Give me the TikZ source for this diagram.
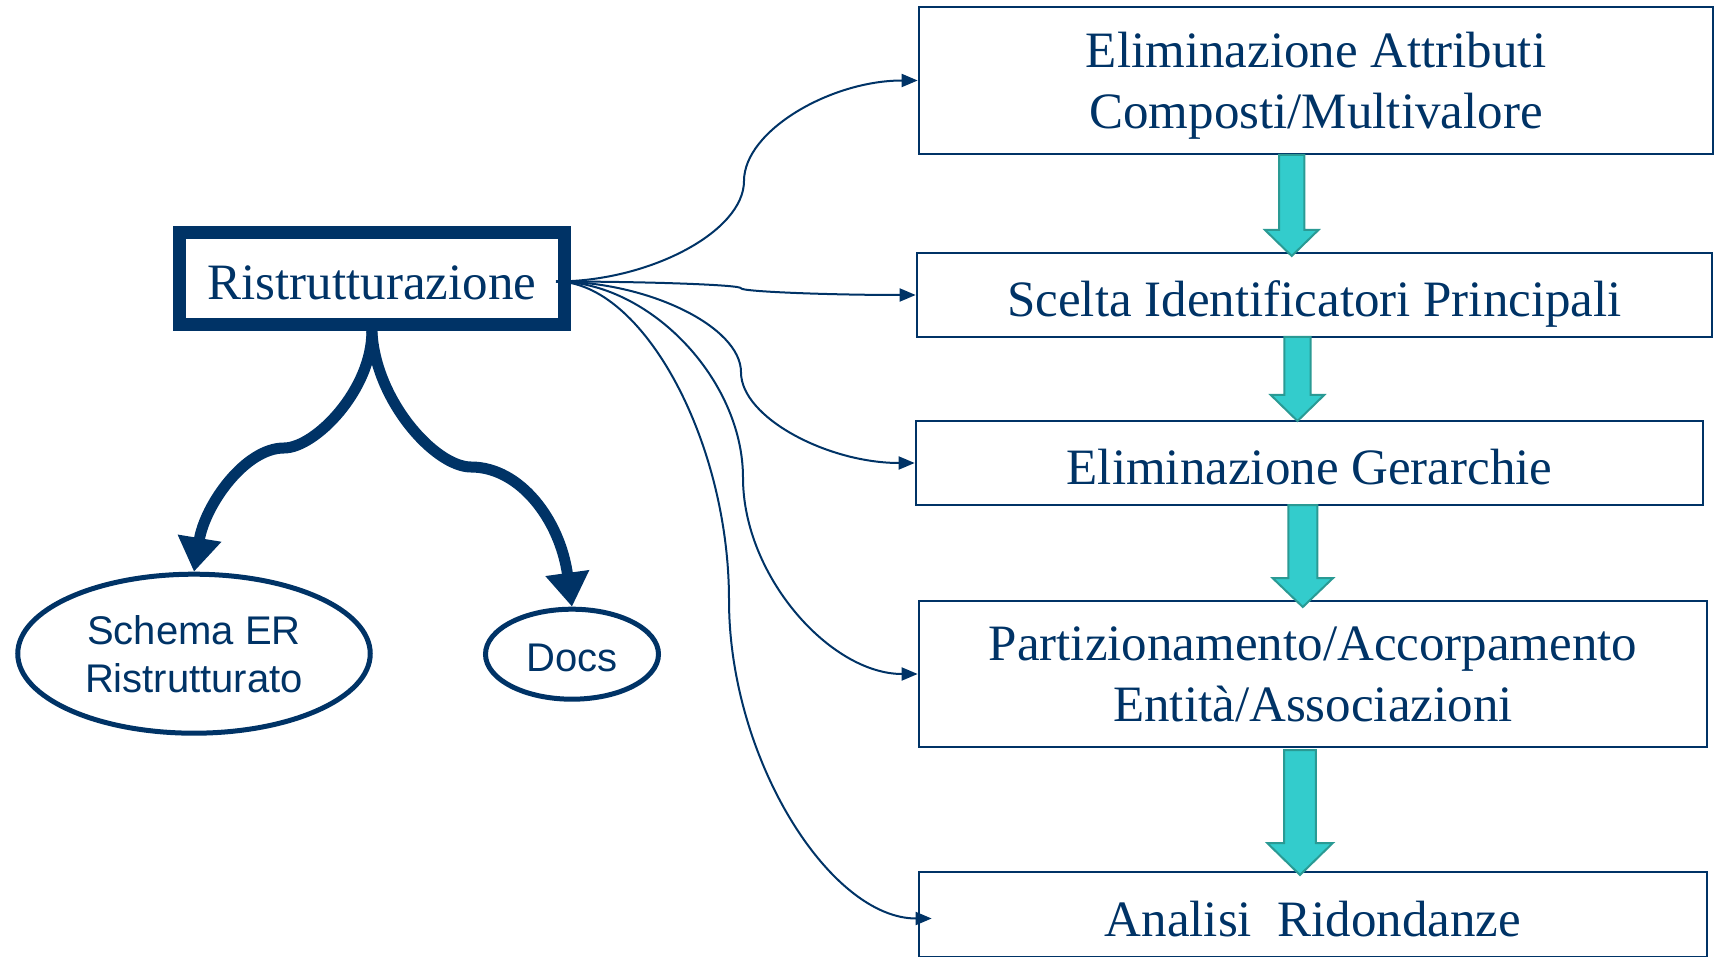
\documentclass[tikz,border=0pt]{standalone}
\usepackage{fontspec}
\setmainfont{Liberation Serif}
\newfontfamily\labelsans{Liberation Sans}
\usetikzlibrary{arrows.meta,shapes.geometric,calc}
\definecolor{navy}{HTML}{003366}
\definecolor{tealfill}{HTML}{33CCCC}
\definecolor{tealedge}{HTML}{2A9A94}

% vertical block arrow: centre x, top y, head y, tip y, half shaft, half head
\newcommand\tealarrow[6]{%
  \draw[blockarrow] ({#1-#5},#2) -- ({#1+#5},#2) -- ({#1+#5},#3) -- ({#1+#6},#3)
    -- (#1,#4) -- ({#1-#6},#3) -- ({#1-#5},#3) -- cycle;}

\begin{document}
\begin{tikzpicture}[x=1pt,y=-1pt,
  serifbig/.style={font=\fontsize{51}{61.5}\selectfont},
  stepbox/.style={draw=navy, line width=2.7pt, text=navy, inner sep=0pt,
    align=center, serifbig, text depth=-9pt},
  onerow/.style={text height=43pt, text depth=0pt},
  hubbox/.style={draw=navy, line width=13pt, text=navy, inner sep=0pt,
    minimum width=385pt, minimum height=92pt, serifbig,
    text height=42pt, text depth=0pt},
  outcome/.style={ellipse, draw=navy, line width=5pt, text=navy, inner sep=0pt,
    align=center, font=\labelsans\fontsize{40}{48}\selectfont},
  feed/.style={draw=navy, line width=2pt, -{Triangle[length=16pt,width=13pt]}},
  fork/.style={draw=navy, line width=11pt, -{Triangle[length=34pt,width=42pt]}},
  blockarrow/.style={fill=tealfill, draw=tealedge, line width=2pt, line join=miter},
  elbow/.style={to path={let \p1=(\tikztostart), \p2=(\tikztotarget) in
    .. controls ({(\x1+#1pt)/2},\y1) and (#1pt,{(3*\y1+\y2)/4})
    .. (#1pt,{(\y1+\y2)/2})
    .. controls (#1pt,{(\y1+3*\y2)/4}) and ({(#1pt+\x2)/2},\y2)
    .. (\x2,\y2) \tikztonodes}}
]
\useasboundingbox (0,0) rectangle (1714,957);

% process steps
\node[stepbox, minimum width=794pt, minimum height=147pt] (b1) at (1316,80.5)
  {Eliminazione Attributi\\Composti/Multivalore};
\node[stepbox, onerow, minimum width=795pt, minimum height=84pt] (b2) at (1314.5,295)
  {Scelta Identificatori Principali};
\node[stepbox, onerow, minimum width=787pt, minimum height=84pt] (b3) at (1309.5,463)
  {Eliminazione Gerarchie};
\node[stepbox, minimum width=788pt, minimum height=146pt] (b4) at (1313,674)
  {Partizionamento/Accorpamento\\Entità/Associazioni};
\node[stepbox, onerow, minimum width=788pt, minimum height=85pt] (b5) at (1313,914.5)
  {Analisi~~Ridondanze};

% block arrows between the steps
\tealarrow{1291.7}{155}{230}{256}{12.7}{26.7}
\tealarrow{1297.5}{337}{395}{421}{13.2}{26.7}
\tealarrow{1302.8}{505}{578}{607}{14.5}{30.3}
\tealarrow{1300}{750}{843}{875}{15.8}{32.8}

% fan of connectors from the main box
\coordinate (hub) at (556,281.5);
\draw[feed] (hub) to[elbow=744] (b1.west);
\draw[feed] (hub) to[elbow=741] (b2.west);
\draw[feed] (hub) to[elbow=741] (b3.west);
\draw[feed] (hub) to[elbow=743] (b4.west);
\draw[feed] (hub) to[elbow=729] ([xshift=14pt,yshift=-4pt]b5.west);

% main box
\node[hubbox] (b0) at (371.9,278.5) {Ristrutturazione};

% outputs
\node[outcome, text depth=-6pt, minimum width=352.5pt, minimum height=159pt] (e1)
  at (194,653.7) {Schema ER\\Ristrutturato};
\node[outcome, text height=35pt, text depth=0pt, minimum width=173pt,
  minimum height=90pt] (e2) at (572,654.2) {Docs};

\coordinate (bendL) at (284,448);
\coordinate (bendR) at (471,467);
\draw[fork] (b0.south) .. controls (372,390) and (315,448) .. (bendL)
  .. controls (245,448) and (205,505) .. (e1.north);
\draw[fork] (b0.south) .. controls (375,400) and (435,467) .. (bendR)
  .. controls (520,467) and (560,520) .. (e2.north);
\end{tikzpicture}
\end{document}
